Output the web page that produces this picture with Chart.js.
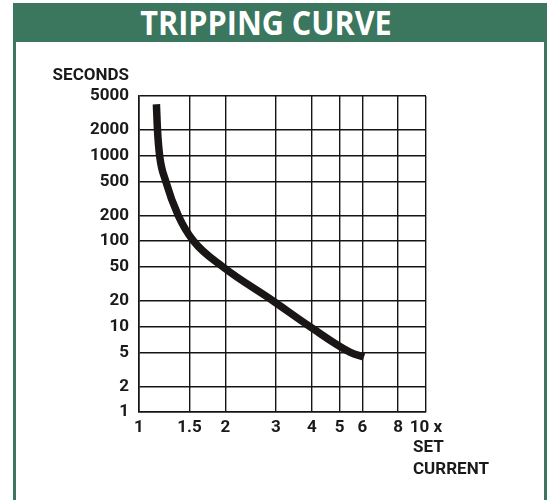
<!DOCTYPE html>
<html>
<head>
<meta charset="utf-8">
<script src="https://cdn.jsdelivr.net/npm/chart.js@4"></script>
<style>
    html, body { margin: 0; padding: 0; background: #fff; }
    #page { position: relative; width: 548px; height: 500px; overflow: hidden; }
    #frame {
        position: absolute; left: 13px; top: 3px; width: 528px; height: 500px;
        border: 3px solid #3b765e; border-top: none; box-sizing: content-box;
    }
    #header {
        position: absolute; left: 13px; top: 3px; width: 534px; height: 39px;
        background: #3b765e;
    }
    #header span {
        position: absolute; left: 0; right: 28px; top: 0;
        color: #fff; font-family: "Open Sans", sans-serif; font-weight: 700; font-size: 34px;
        line-height: 39px; text-align: center; transform: scaleX(0.9);
    }
    #chart { position: absolute; left: 0; top: 0; }
</style>
</head>
<body>
<div id="page">
    <div id="frame"></div>
    <div id="header"><span>TRIPPING CURVE</span></div>
    <canvas id="chart" width="548" height="500"></canvas>
</div>
<script>
// tick values on both log axes
const xTicks = [1, 1.5, 2, 3, 4, 5, 6, 8, 10];
const yTicks = [1, 2, 5, 10, 20, 50, 100, 200, 500, 1000, 2000, 5000];

// curve: multiple of set current vs seconds to trip
const currentMultiple = [1.15, 1.16, 1.18, 1.24, 1.37, 1.55, 1.96, 2.93, 3.94, 5.45, 6.08];
const tripSeconds = [4000, 2000, 1000, 500, 200, 100, 50, 20, 10, 5, 4.4];

const tickFont = { family: 'Roboto, "Liberation Sans", sans-serif', weight: 'bold', size: 17 };

// extra captions: SECONDS over the y axis, SET / CURRENT under the last x tick
const axisCaptions = {
    id: 'axisCaptions',
    afterDraw(chart) {
        const ctx = chart.ctx;
        const x = chart.scales.x, y = chart.scales.y;
        ctx.save();
        ctx.fillStyle = '#1a1a1a';
        ctx.font = `bold ${tickFont.size}px ${tickFont.family}`;
        ctx.textBaseline = 'middle';
        ctx.textAlign = 'right';
        ctx.fillText('SECONDS', y.right - 10, chart.chartArea.top - 20);
        ctx.textAlign = 'left';
        const left = x.getPixelForValue(10) - 13;
        ctx.fillText('SET', left, chart.chartArea.bottom + 36);
        ctx.fillText('CURRENT', left, chart.chartArea.bottom + 58);
        ctx.restore();
    }
};

const gridStyle = { color: '#151515', lineWidth: 1.4, drawTicks: false };
const borderStyle = { color: '#151515', width: 1.6 };

new Chart(document.getElementById('chart'), {
    type: 'line',
    data: {
        datasets: [{
            data: currentMultiple.map((v, i) => ({ x: v, y: tripSeconds[i] })),
            borderColor: '#1a1616',
            borderWidth: 7.5,
            borderCapStyle: 'butt',
            borderJoinStyle: 'round',
            pointRadius: 0,
            cubicInterpolationMode: 'monotone',
            fill: false
        }]
    },
    options: {
        responsive: false,
        animation: false,
        layout: { padding: { left: 0, top: 96, right: 122, bottom: 0 } },
        plugins: { legend: { display: false }, tooltip: { enabled: false } },
        scales: {
            x: {
                type: 'logarithmic',
                min: 1, max: 10,
                afterBuildTicks: s => { s.ticks = xTicks.map(v => ({ value: v })); },
                afterFit: s => { s.height = 88; },
                grid: gridStyle,
                border: borderStyle,
                ticks: {
                    autoSkip: false, maxRotation: 0,
                    padding: 6,
                    color: '#1a1a1a',
                    font: tickFont,
                    callback: v => (v === 10 ? '10 x' : String(v))
                }
            },
            y: {
                type: 'logarithmic',
                min: 1, max: 5000,
                afterBuildTicks: s => { s.ticks = yTicks.map(v => ({ value: v })); },
                afterFit: s => { s.width = 139; },
                grid: gridStyle,
                border: borderStyle,
                ticks: {
                    autoSkip: false,
                    padding: 10,
                    color: '#1a1a1a',
                    font: tickFont,
                    callback: v => String(v)
                }
            }
        }
    },
    plugins: [axisCaptions]
});
</script>
</body>
</html>
